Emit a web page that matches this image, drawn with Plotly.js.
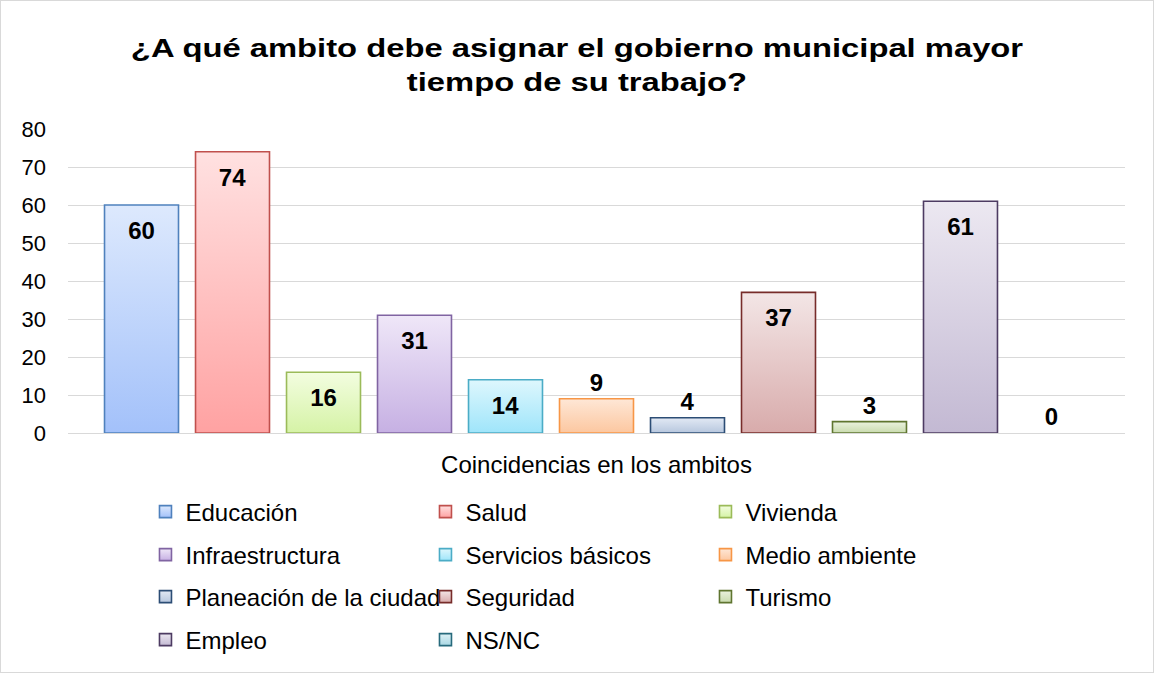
<!DOCTYPE html>
<html>
<head>
<meta charset="utf-8">
<script src="https://cdn.plot.ly/plotly-3.0.1.min.js"></script>
<style>
html,body{margin:0;padding:0;background:#fff;}
#chart{width:1152px;height:671px;border:1px solid #d9d9d9;}
</style>
</head>
<body>
<div id="chart"></div>
<script>
const category = "Coincidencias en los ambitos";
const seriesNames = ["Educación","Salud","Vivienda","Infraestructura","Servicios básicos","Medio ambiente","Planeación de la ciudad","Seguridad","Turismo","Empleo","NS/NC"];
const seriesValues = [60,74,16,31,14,9,4,37,3,61,0];
const gradTop = ["#dde9fd","#ffe1e1","#f3fde0","#efe7f8","#def7fd","#fee7d6","#e2e9f4","#f3e6e6","#ebf2df","#ece8f1","#dff1f5"];
const gradBottom = ["#a3c1fa","#ffa2a2","#d5f3a6","#c6b0e3","#9fe5fa","#fcc7a0","#b7c7de","#d8abab","#c9dbae","#c3b9d3","#a9d8e4"];
const borderColors = ["#4f81bd","#c0504d","#9bbb59","#8064a2","#4bacc6","#f79646","#2c4d75","#772c2a","#5f7530","#4d3b62","#276a7c"];
const yTicks = [0,10,20,30,40,50,60,70,80];

const FONT = "Liberation Sans, Arial, sans-serif";
const nPerRow = 3;
const TITLE_STRETCH = 1.26;
const INSIDE_LABEL_SHIFT = 9;

const traces = seriesNames.map((name,i)=>({
  type:'bar',
  name:name,
  x:[category],
  y:[seriesValues[i]],
  text:[String(seriesValues[i])],
  textposition: seriesValues[i] >= 14 ? 'inside' : 'outside',
  insidetextanchor:'end',
  textfont:{family:FONT,size:24,color:'#000',weight:'bold'},
  outsidetextfont:{family:FONT,size:24,color:'#000',weight:'bold'},
  insidetextfont:{family:FONT,size:24,color:'#000',weight:'bold'},
  constraintext:'none',
  cliponaxis:false,
  marker:{color:gradBottom[i],line:{color:borderColors[i],width:1.6}},
  legend: Math.floor(i/nPerRow)===0 ? 'legend' : 'legend'+(Math.floor(i/nPerRow)+1),
  showlegend:true
}));

const H = 671;
const plotTop = 128, plotBottom = 432;
function rowY(pix){ return 1 - pix/H; }
const legendRowsPix = [511,554,596,639];
const legendCommon = {
  orientation:'h', entrywidth:235, entrywidthmode:'pixels',
  x:0.0733, xanchor:'left', yanchor:'middle', yref:'container',
  font:{family:FONT,size:24,color:'#000'},
  bgcolor:'rgba(0,0,0,0)', itemclick:false, itemdoubleclick:false,
  traceorder:'normal'
};

const layout = {
  width:1152, height:H,
  margin:{l:67,r:28,t:plotTop,b:H-plotBottom},
  paper_bgcolor:'#fff', plot_bgcolor:'#fff',
  font:{family:FONT,color:'#000'},
  title:{text:"¿A qué ambito debe asignar el gobierno municipal mayor<br>tiempo de su trabajo?",
    font:{family:FONT,size:26,color:'#000',weight:'bold'},
    x:0.5, xanchor:'center', xref:'container', y:0.916, yanchor:'top', yref:'container'},
  barmode:'group', bargap:0.053, bargroupgap:0.187,
  xaxis:{type:'category', showgrid:false, showline:true, linecolor:'#d9d9d9', linewidth:1,
    ticks:'', tickfont:{family:FONT,size:24,color:'#000'}, ticklabelstandoff:10, fixedrange:true, automargin:false},
  yaxis:{range:[0,80], tickvals:yTicks, ticktext:yTicks.map(String), showgrid:true, gridcolor:'#d9d9d9', gridwidth:1,
    zeroline:false, showline:false, ticks:'', tickfont:{family:FONT,size:22,color:'#000'}, ticklabelstandoff:21, fixedrange:true, automargin:false},
  showlegend:true,
  legend:Object.assign({}, legendCommon, {y:rowY(legendRowsPix[0])}),
  legend2:Object.assign({}, legendCommon, {y:rowY(legendRowsPix[1])}),
  legend3:Object.assign({}, legendCommon, {y:rowY(legendRowsPix[2])}),
  legend4:Object.assign({}, legendCommon, {y:rowY(legendRowsPix[3])})
};

Plotly.newPlot('chart', traces, layout, {staticPlot:true, displayModeBar:false}).then(gd=>{
  const svg = gd.querySelector('svg.main-svg');
  const ns = 'http://www.w3.org/2000/svg';
  let defs = svg.querySelector('defs');
  if(!defs){ defs = document.createElementNS(ns,'defs'); svg.insertBefore(defs, svg.firstChild); }
  seriesNames.forEach((n,i)=>{
    const lg = document.createElementNS(ns,'linearGradient');
    lg.setAttribute('id','bargrad'+i);
    lg.setAttribute('x1','0'); lg.setAttribute('y1','0'); lg.setAttribute('x2','0'); lg.setAttribute('y2','1');
    const s1 = document.createElementNS(ns,'stop'); s1.setAttribute('offset','0'); s1.setAttribute('stop-color',gradTop[i]);
    const s2 = document.createElementNS(ns,'stop'); s2.setAttribute('offset','1'); s2.setAttribute('stop-color',gradBottom[i]);
    lg.appendChild(s1); lg.appendChild(s2); defs.appendChild(lg);
  });
  gd.querySelectorAll('.barlayer .trace.bars').forEach(t=>{
    const d = t.__data__; const idx = d && d[0] && d[0].trace ? d[0].trace.index : null;
    if(idx==null) return;
    t.querySelectorAll('.point path').forEach(p=>{
      p.style.fill = 'url(#bargrad'+idx+')';
      if(seriesValues[idx] === 0) p.style.strokeOpacity = 0;
    });
    t.querySelectorAll('text.bartext-inside').forEach(tx=>{
      const tr = tx.getAttribute('transform') || '';
      tx.setAttribute('transform', 'translate(0,'+INSIDE_LABEL_SHIFT+') ' + tr);
    });
  });
  gd.querySelectorAll('.infolayer g[class^="legend"] .traces').forEach(t=>{
    const d = t.__data__; const idx = d && d[0] && d[0].trace ? d[0].trace.index : null;
    if(idx==null) return;
    t.querySelectorAll('.legendpoints path').forEach(p=>{ p.style.fill = 'url(#bargrad'+idx+')'; });
  });
  const title = gd.querySelector('.gtitle');
  if(title){
    const cx = parseFloat(title.getAttribute('x'));
    const tr = title.getAttribute('transform') || '';
    title.setAttribute('transform', 'translate('+cx+',0) scale('+TITLE_STRETCH+',1) translate('+(-cx)+',0) ' + tr);
  }
});
</script>
</body>
</html>
